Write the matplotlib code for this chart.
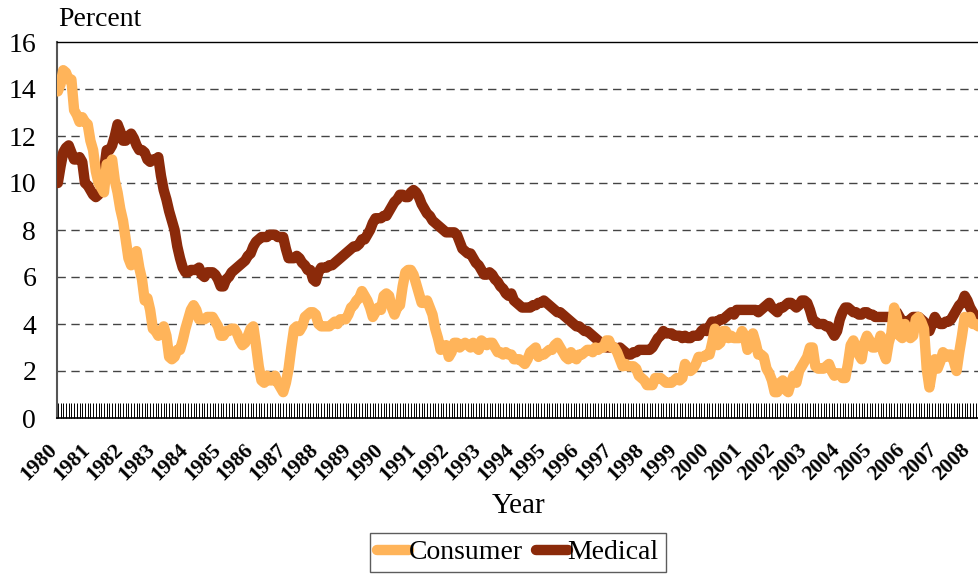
import numpy as np
import matplotlib
matplotlib.use('Agg')
import matplotlib.pyplot as plt
import matplotlib.transforms as mtransforms

plt.rcParams['font.family'] = ['Liberation Serif', 'DejaVu Serif']

# year-over-year change, percent, monthly from Jan 1980 to Apr 2008
consumer = [
    13.9, 14.2, 14.8, 14.7, 14.4, 14.4, 13.1, 12.9, 12.6, 12.8, 12.6, 12.5,  # 1980
    11.8, 11.4, 10.5, 10.0, 9.8, 9.6, 10.8, 10.8, 11.0, 10.1, 9.6, 8.9,      # 1981
    8.4, 7.6, 6.8, 6.5, 6.7, 7.1, 6.4, 5.9, 5.0, 5.1, 4.6, 3.8,              # 1982
    3.7, 3.5, 3.6, 3.9, 3.5, 2.6, 2.5, 2.6, 2.9, 2.9, 3.3, 3.8,              # 1983
    4.2, 4.6, 4.8, 4.6, 4.2, 4.2, 4.2, 4.3, 4.3, 4.3, 4.1, 3.9,              # 1984
    3.5, 3.5, 3.7, 3.7, 3.8, 3.8, 3.6, 3.3, 3.1, 3.2, 3.5, 3.8,              # 1985
    3.9, 3.1, 2.2, 1.6, 1.5, 1.8, 1.6, 1.6, 1.8, 1.5, 1.3, 1.1,              # 1986
    1.5, 2.1, 3.0, 3.8, 3.9, 3.7, 3.9, 4.3, 4.4, 4.5, 4.5, 4.4,              # 1987
    4.0, 3.9, 3.9, 3.9, 3.9, 4.0, 4.1, 4.0, 4.2, 4.2, 4.2, 4.4,              # 1988
    4.7, 4.8, 5.0, 5.1, 5.4, 5.2, 5.0, 4.7, 4.3, 4.5, 4.7, 4.6,              # 1989
    5.2, 5.3, 5.2, 4.7, 4.4, 4.7, 4.8, 5.6, 6.2, 6.3, 6.3, 6.1,              # 1990
    5.7, 5.3, 4.9, 4.9, 5.0, 4.7, 4.4, 3.8, 3.4, 2.9, 3.0, 3.1,              # 1991
    2.6, 2.8, 3.2, 3.2, 3.0, 3.1, 3.2, 3.1, 3.0, 3.2, 3.0, 2.9,              # 1992
    3.3, 3.2, 3.1, 3.2, 3.2, 3.0, 2.8, 2.8, 2.7, 2.8, 2.7, 2.7,              # 1993
    2.5, 2.5, 2.5, 2.4, 2.3, 2.5, 2.8, 2.9, 3.0, 2.6, 2.7, 2.7,              # 1994
    2.8, 2.9, 2.9, 3.1, 3.2, 3.0, 2.8, 2.6, 2.5, 2.8, 2.6, 2.5,              # 1995
    2.7, 2.7, 2.8, 2.9, 2.9, 2.8, 3.0, 2.9, 3.0, 3.0, 3.3, 3.3,              # 1996
    3.0, 3.0, 2.8, 2.5, 2.2, 2.3, 2.2, 2.2, 2.2, 2.1, 1.8, 1.7,              # 1997
    1.6, 1.4, 1.4, 1.4, 1.7, 1.7, 1.7, 1.6, 1.5, 1.5, 1.5, 1.6,              # 1998
    1.7, 1.6, 1.7, 2.3, 2.1, 2.0, 2.1, 2.3, 2.6, 2.6, 2.6, 2.7,              # 1999
    2.7, 3.2, 3.8, 3.1, 3.2, 3.7, 3.7, 3.4, 3.5, 3.4, 3.4, 3.4,              # 2000
    3.7, 3.5, 2.9, 3.3, 3.6, 3.2, 2.7, 2.7, 2.6, 2.1, 1.9, 1.6,              # 2001
    1.1, 1.1, 1.5, 1.6, 1.2, 1.1, 1.5, 1.8, 1.5, 2.0, 2.2, 2.4,              # 2002
    2.6, 3.0, 3.0, 2.2, 2.1, 2.1, 2.1, 2.2, 2.3, 2.0, 1.8, 1.9,              # 2003
    1.9, 1.7, 1.7, 2.3, 3.1, 3.3, 3.0, 2.7, 2.5, 3.2, 3.5, 3.3,              # 2004
    3.0, 3.0, 3.1, 3.5, 2.8, 2.5, 3.2, 3.6, 4.7, 4.3, 3.5, 3.4,              # 2005
    4.0, 3.6, 3.4, 3.5, 4.2, 4.3, 4.1, 3.8, 2.1, 1.3, 2.0, 2.5,              # 2006
    2.1, 2.4, 2.8, 2.6, 2.7, 2.7, 2.4, 2.0, 2.8, 3.5, 4.3, 4.1,              # 2007
    4.3, 4.0, 4.0, 3.9,                                                      # 2008
]

medical = [
    10.0, 10.7, 11.3, 11.5, 11.6, 11.3, 11.0, 11.0, 11.1, 10.9, 10.0, 9.9,   # 1980
    9.7, 9.5, 9.4, 9.5, 9.7, 10.5, 11.4, 11.4, 11.6, 12.0, 12.5, 12.2,       # 1981
    11.8, 11.8, 12.0, 12.1, 11.9, 11.6, 11.4, 11.4, 11.3, 11.0, 10.9, 11.0,  # 1982
    11.0, 11.1, 10.3, 9.7, 9.3, 8.8, 8.4, 8.0, 7.3, 6.8, 6.4, 6.2,           # 1983
    6.2, 6.3, 6.3, 6.3, 6.4, 6.1, 6.0, 6.2, 6.2, 6.2, 6.1, 5.9,              # 1984
    5.6, 5.6, 5.9, 6.0, 6.2, 6.3, 6.4, 6.5, 6.6, 6.7, 6.9, 7.0,              # 1985
    7.3, 7.5, 7.6, 7.7, 7.7, 7.7, 7.8, 7.8, 7.8, 7.7, 7.7, 7.7,              # 1986
    7.2, 6.8, 6.8, 6.8, 6.9, 6.8, 6.6, 6.5, 6.3, 6.3, 5.9, 5.8,              # 1987
    6.2, 6.4, 6.4, 6.4, 6.5, 6.5, 6.6, 6.7, 6.8, 6.9, 7.0, 7.1,              # 1988
    7.2, 7.3, 7.3, 7.4, 7.6, 7.6, 7.8, 8.0, 8.3, 8.5, 8.5, 8.5,              # 1989
    8.6, 8.6, 8.8, 9.0, 9.2, 9.3, 9.5, 9.5, 9.4, 9.4, 9.6, 9.7,              # 1990
    9.6, 9.4, 9.1, 8.9, 8.7, 8.6, 8.4, 8.3, 8.2, 8.1, 8.0, 7.9,              # 1991
    7.9, 7.9, 7.9, 7.8, 7.5, 7.2, 7.1, 7.0, 7.0, 6.8, 6.6, 6.5,              # 1992
    6.3, 6.1, 6.1, 6.2, 6.1, 5.9, 5.8, 5.6, 5.5, 5.3, 5.2, 5.3,              # 1993
    5.0, 4.9, 4.8, 4.7, 4.7, 4.7, 4.7, 4.8, 4.8, 4.9, 4.9, 5.0,              # 1994
    4.9, 4.8, 4.7, 4.6, 4.5, 4.5, 4.4, 4.3, 4.2, 4.1, 4.0, 3.9,              # 1995
    3.9, 3.8, 3.7, 3.7, 3.6, 3.5, 3.4, 3.3, 3.2, 3.1, 3.0, 3.0,              # 1996
    3.0, 3.0, 2.9, 3.0, 2.9, 2.8, 2.7, 2.7, 2.8, 2.8, 2.9, 2.9,              # 1997
    2.9, 2.9, 2.9, 3.0, 3.2, 3.4, 3.5, 3.7, 3.6, 3.6, 3.6, 3.5,              # 1998
    3.5, 3.5, 3.4, 3.5, 3.4, 3.4, 3.5, 3.5, 3.5, 3.7, 3.8, 3.7,              # 1999
    3.9, 4.1, 4.1, 4.1, 4.2, 4.2, 4.3, 4.4, 4.5, 4.4, 4.6, 4.6,              # 2000
    4.6, 4.6, 4.6, 4.6, 4.6, 4.6, 4.5, 4.6, 4.7, 4.8, 4.9, 4.7,              # 2001
    4.6, 4.5, 4.7, 4.7, 4.8, 4.9, 4.9, 4.8, 4.7, 4.8, 5.0, 5.0,              # 2002
    4.9, 4.6, 4.2, 4.1, 4.0, 4.0, 4.0, 3.9, 3.9, 3.7, 3.5, 3.7,              # 2003
    4.2, 4.5, 4.7, 4.7, 4.6, 4.5, 4.5, 4.4, 4.4, 4.5, 4.5, 4.4,              # 2004
    4.4, 4.3, 4.3, 4.3, 4.3, 4.3, 4.3, 4.3, 4.4, 4.5, 4.3, 4.1,              # 2005
    4.1, 4.1, 4.2, 4.3, 4.3, 4.3, 4.2, 4.1, 3.9, 3.7, 4.0, 4.3,              # 2006
    4.1, 4.0, 4.0, 4.1, 4.1, 4.2, 4.4, 4.6, 4.8, 4.9, 5.2, 5.0,              # 2007
    4.7, 4.5, 4.3, 4.3,                                                      # 2008
]

years = list(range(1980, 2009))

consumer_color = '#FFB45A'
medical_color = '#8B2A0A'

fig = plt.figure(figsize=(9.79, 5.74), dpi=100)
ax = fig.add_axes([57 / 979, 1 - 418 / 574, (981 - 57) / 979, (418 - 42) / 574])

months = np.arange(len(consumer))
ax.plot(months, medical, color=medical_color, lw=7.5, solid_joinstyle='round',
        solid_capstyle='round', label='Medical', zorder=3)
ax.plot(months, consumer, color=consumer_color, lw=7.5, solid_joinstyle='round',
        solid_capstyle='round', label='Consumer', zorder=4)

ax.set_ylim(0, 16)
ax.set_xlim(-0.3, 340)
ax.set_yticks(np.arange(0, 17, 2))
ax.tick_params(axis='y', length=0, pad=15, labelsize=20)
for v in range(2, 16, 2):
    ax.axhline(v, color='#444444', lw=1.0, ls=(0, (6, 4)), zorder=1)

ax.set_xticks(np.arange(0, len(consumer), 12))
ax.set_xticks(np.arange(0, len(consumer)), minor=True)
ax.tick_params(axis='x', which='both', direction='in', length=11, width=0.7,
               pad=16, color='black')
ax.set_xticklabels([str(y) for y in years])
# rotated box's right edge sits a few px right of the tick, like the original
shift = mtransforms.ScaledTranslation(4 / 100, 0, fig.dpi_scale_trans)
for lbl in ax.get_xticklabels():
    lbl.set_rotation(45)
    lbl.set_rotation_mode('default')
    lbl.set_ha('right')
    lbl.set_va('top')
    lbl.set_fontweight('bold')
    lbl.set_fontsize(15.5)
    lbl.set_transform(lbl.get_transform() + shift)

ax.spines['left'].set_color('#555555')
ax.spines['left'].set_linewidth(1.5)
ax.spines['top'].set_linewidth(1.0)
ax.spines['bottom'].set_linewidth(1.2)
ax.spines['right'].set_visible(False)

ax.set_xlabel('Year', fontsize=21, labelpad=6)
fig.text(58 / 979, 1 - 20 / 574, 'Percent', fontsize=20, va='center', ha='left')

handles, labels = ax.get_legend_handles_labels()
leg = fig.legend(handles[::-1], labels[::-1], loc='upper center', ncol=2,
                 bbox_to_anchor=(518 / 979, 1 - 533 / 574), frameon=True,
                 fancybox=False, edgecolor='#333333', fontsize=20,
                 handlelength=1.15, handletextpad=0.0, columnspacing=0.45,
                 borderpad=0.25, borderaxespad=0)
leg.get_frame().set_linewidth(1.0)

fig.savefig('out.png', dpi=100)
